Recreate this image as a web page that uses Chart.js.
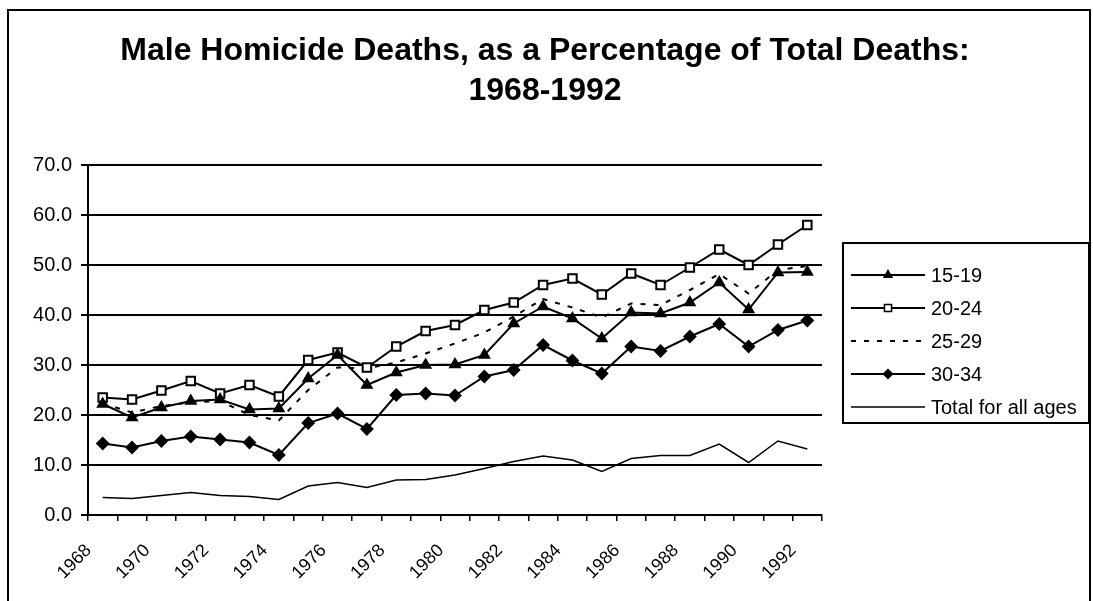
<!DOCTYPE html>
<html>
<head>
<meta charset="utf-8">
<title>Male Homicide Deaths</title>
<script src="https://cdn.jsdelivr.net/npm/chart.js@4.4.1/dist/chart.umd.min.js"></script>
<style>
html, body { margin: 0; padding: 0; background: #fff; }
#wrap { width: 1093px; height: 601px; }
</style>
</head>
<body>
<div id="wrap"><canvas id="myChart" width="1093" height="601"></canvas></div>
<script>
const years = ['1968', '1969', '1970', '1971', '1972', '1973', '1974', '1975', '1976', '1977', '1978', '1979', '1980',
    '1981', '1982', '1983', '1984', '1985', '1986', '1987', '1988', '1989', '1990', '1991', '1992'];

const ages15to19 = [22.2, 19.5, 21.5, 22.8, 23.1, 21.1, 21.3, 27.3, 32.0, 26.0, 28.5, 30.0, 30.1,
    32.0, 38.3, 41.7, 39.3, 35.3, 40.5, 40.3, 42.5, 46.5, 41.1, 48.5, 48.6];
const ages20to24 = [23.5, 23.1, 24.9, 26.8, 24.3, 26.0, 23.7, 31.0, 32.5, 29.5, 33.7, 36.8, 38.0,
    41.0, 42.5, 46.0, 47.3, 44.1, 48.3, 46.0, 49.5, 53.1, 50.0, 54.1, 58.0];
const ages25to29 = [22.3, 20.5, 21.8, 22.5, 22.8, 20.0, 18.9, 25.0, 29.5, 29.3, 30.5, 32.3, 34.3,
    36.5, 39.7, 43.2, 41.5, 39.5, 42.3, 42.0, 45.0, 48.2, 44.3, 49.0, 49.8];
const ages30to34 = [14.3, 13.5, 14.8, 15.7, 15.1, 14.5, 12.0, 18.4, 20.3, 17.2, 24.0, 24.3, 23.9,
    27.7, 29.0, 34.0, 30.9, 28.3, 33.7, 32.8, 35.7, 38.2, 33.7, 37.0, 38.9];
const allAges = [3.5, 3.3, 3.9, 4.5, 3.9, 3.7, 3.1, 5.8, 6.5, 5.5, 7.0, 7.1, 8.0,
    9.3, 10.7, 11.8, 11.0, 8.7, 11.3, 11.9, 11.9, 14.2, 10.5, 14.8, 13.2];

const seriesNames = ['15-19', '20-24', '25-29', '30-34', 'Total for all ages'];
const titleLines = ['Male Homicide Deaths, as a Percentage of Total Deaths:', '1968-1992'];
const yTicks = [0, 10, 20, 30, 40, 50, 60, 70];

const FONT = "'Liberation Sans', Arial, Helvetica, sans-serif";

Chart.defaults.color = '#000';
Chart.defaults.font.family = FONT;

// frame, title and an Excel-like legend box (the built-in title would centre over the plot only)
const frameAndLegend = {
    id: 'frameAndLegend',
    beforeDraw(chart) {
        const c = chart.ctx;
        c.save();
        c.fillStyle = '#fff';
        c.fillRect(0, 0, chart.width, chart.height);
        c.strokeStyle = '#000';
        c.lineWidth = 2;
        c.strokeRect(8, 10, 1082, 700);
        c.restore();
    },
    afterDraw(chart) {
        const c = chart.ctx;
        c.save();
        c.fillStyle = '#000';
        c.font = 'bold 32px ' + FONT;
        c.textAlign = 'center';
        c.textBaseline = 'middle';
        titleLines.forEach((t, i) => c.fillText(t, 545, 51 + i * 40));

        const box = { left: 843, top: 243, right: 1089, bottom: 423 };
        c.strokeStyle = '#000';
        c.lineWidth = 2;
        c.strokeRect(box.left, box.top, box.right - box.left, box.bottom - box.top);

        chart.data.datasets.forEach((ds, i) => {
            const y = 275 + i * 33;
            c.save();
            c.strokeStyle = '#000';
            c.lineWidth = ds.borderWidth;
            c.setLineDash(ds.borderDash || []);
            c.beginPath();
            c.moveTo(851, y);
            c.lineTo(925, y);
            c.stroke();
            c.restore();
            if (ds.pointRadius > 0 && Chart.helpers && Chart.helpers.drawPoint) {
                c.fillStyle = ds.pointBackgroundColor;
                c.strokeStyle = '#000';
                c.lineWidth = 1.5;
                Chart.helpers.drawPoint(c, {
                    pointStyle: ds.pointStyle,
                    radius: ds.pointRadius - 1,
                    rotation: 0,
                    borderWidth: 1.5
                }, 888, y);
            }
            c.fillStyle = '#000';
            c.font = '20px ' + FONT;
            c.textBaseline = 'middle';
            c.textAlign = 'left';
            c.fillText(ds.label, 931, y + 1);
        });
        c.restore();
    }
};

new Chart(
    document.getElementById('myChart'),
    {
        type: 'line',
        data: {
            labels: years,
            datasets: [
                {
                    label: seriesNames[0],
                    data: ages15to19,
                    borderColor: '#000',
                    borderWidth: 2,
                    pointStyle: 'triangle',
                    pointRadius: 5.5,
                    pointBackgroundColor: '#000',
                    pointBorderColor: '#000'
                },
                {
                    label: seriesNames[1],
                    data: ages20to24,
                    borderColor: '#000',
                    borderWidth: 2,
                    pointStyle: 'rect',
                    pointRadius: 6,
                    pointBorderWidth: 2,
                    pointBackgroundColor: '#fff',
                    pointBorderColor: '#000'
                },
                {
                    label: seriesNames[2],
                    data: ages25to29,
                    borderColor: '#000',
                    borderWidth: 2,
                    borderDash: [5, 8],
                    pointRadius: 0
                },
                {
                    label: seriesNames[3],
                    data: ages30to34,
                    borderColor: '#000',
                    borderWidth: 2,
                    pointStyle: 'rectRot',
                    pointRadius: 5.5,
                    pointBackgroundColor: '#000',
                    pointBorderColor: '#000'
                },
                {
                    label: seriesNames[4],
                    data: allAges,
                    borderColor: '#000',
                    borderWidth: 1.5,
                    pointRadius: 0
                }
            ]
        },
        options: {
            responsive: false,
            animation: false,
            devicePixelRatio: 1,
            layout: {
                padding: { left: 0, right: 271, top: 165, bottom: 0 }
            },
            elements: {
                line: { tension: 0 }
            },
            scales: {
                x: {
                    type: 'category',
                    offset: true,
                    afterFit: scale => { scale.height = 86; },
                    border: { display: true, color: '#000', width: 2 },
                    grid: {
                        offset: true,
                        drawOnChartArea: false,
                        drawTicks: true,
                        tickLength: 6,
                        color: '#000',
                        lineWidth: 1.5
                    },
                    ticks: {
                        autoSkip: false,
                        maxRotation: 45,
                        minRotation: 45,
                        padding: 19,
                        labelOffset: -14,
                        font: { size: 18 },
                        color: '#000',
                        callback: function (value, index) {
                            return index % 2 === 0 ? this.getLabelForValue(value) : '';
                        }
                    }
                },
                y: {
                    min: yTicks[0],
                    max: yTicks[yTicks.length - 1],
                    afterFit: scale => { scale.width = 88; },
                    border: { display: true, color: '#000', width: 2 },
                    grid: {
                        color: '#000',
                        lineWidth: 2,
                        tickLength: 7
                    },
                    ticks: {
                        stepSize: 10,
                        padding: 9,
                        font: { size: 20 },
                        color: '#000',
                        callback: v => v.toFixed(1)
                    }
                }
            },
            plugins: {
                legend: { display: false },
                tooltip: { enabled: false },
                title: { display: false }
            }
        },
        plugins: [frameAndLegend]
    }
);
</script>
</body>
</html>
